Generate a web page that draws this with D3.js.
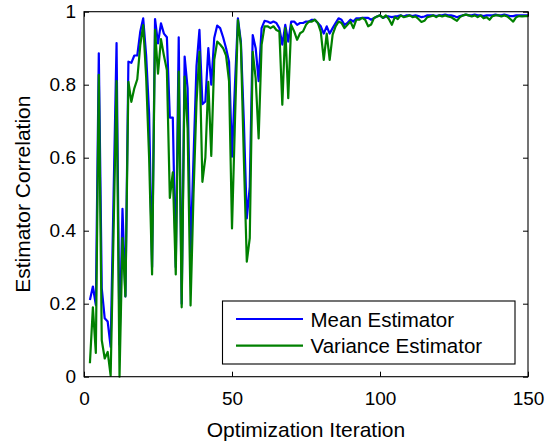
<!DOCTYPE html>
<html>
<head>
<meta charset="utf-8">
<script src="https://cdn.jsdelivr.net/npm/d3@7"></script>
<style>
  body { margin: 0; background: #fff; }
  text { font-family: "Liberation Sans", Arial, sans-serif; fill: #000; }
</style>
</head>
<body>
<div id="graf"></div>
<script>
// Datos (iteraciones 2..150)
iterations = d3.range(2, 151)

meanEstimator = [
  .21, .247, .196, .886, .242, .16, .151, .082, .5, .914,
  .088, .46, .22, .863, .86, .88, .88, .945, .982, .88,
  .72, .30, .98, .913, .968, .94, .93, .71, .71, .30,
  .93, .20, .877, .79, .34, .60, .85, .95, .747, .754,
  .90, .80, .928, .962, .955, .93, .90, .863, .603, .80,
  .982, .918, .70, .434, .52, .936, .90, .81, .955, .975,
  .973, .969, .973, .969, .955, .91, .964, .918, .973, .973,
  .964, .969, .969, .973, .973, .978, .978, .969, .96, .94,
  .96, .94, .955, .969, .982, .978, .964, .969, .978, .973,
  .982, .982, .983, .983, .983, .978, .983, .987, .99, .983,
  .987, .987, .985, .987, .988, .99, .987, .99, .99, .988,
  .99, .988, .985, .987, .99, .99, .99, .988, .99, .99,
  .992, .99, .99, .988, .985, .988, .99, .992, .99, .99,
  .992, .99, .99, .988, .99, .99, .99, .992, .99, .99,
  .992, .99, .988, .988, .99, .99, .99, .99, .99
]

varianceEstimator = [
  .037, .19, .065, .827, .10, .05, .068, .003, .4, .81,
  .0, .38, .22, .808, .753, .79, .815, .908, .963, .82,
  .6, .28, .95, .83, .925, .88, .84, .49, .56, .28,
  .836, .19, .822, .68, .195, .5, .75, .89, .534, .6,
  .808, .605, .868, .918, .91, .90, .88, .81, .406, .70,
  .977, .909, .60, .315, .38, .89, .817, .653, .909, .96,
  .96, .955, .96, .95, .946, .745, .955, .763, .964, .946,
  .923, .941, .946, .964, .973, .973, .978, .969, .945, .868,
  .94, .868, .937, .96, .973, .969, .955, .964, .973, .955,
  .978, .978, .983, .978, .96, .965, .983, .987, .99, .983,
  .99, .98, .964, .985, .98, .99, .985, .987, .99, .985,
  .987, .98, .972, .975, .985, .987, .99, .985, .99, .987,
  .99, .987, .985, .98, .975, .985, .99, .992, .99, .987,
  .99, .985, .99, .982, .985, .978, .988, .99, .99, .987,
  .99, .987, .98, .973, .985, .988, .987, .988, .988
]

seriesNames = ['Mean Estimator', 'Variance Estimator']
seriesColors = ['#0000ff', '#008000']

xTicks = [0, 50, 100, 150]
yTicks = [0, 0.2, 0.4, 0.6, 0.8, 1]
yTickLabels = ['0', '0.2', '0.4', '0.6', '0.8', '1']

// I. Configuración
ancho_total = 552
alto_total = 443
margins = { top: 11.7, left: 84, right: 24, bottom: 66.3 }
ancho = ancho_total - margins.left - margins.right
alto = alto_total - margins.top - margins.bottom

svg = d3.select('#graf').append('svg')
        .attr('width', ancho_total)
        .attr('height', alto_total)

g = svg.append('g')
       .attr('transform', `translate(${ margins.left }, ${ margins.top })`)

x = d3.scaleLinear().domain([0, 150]).range([0, ancho])
y = d3.scaleLinear().domain([0, 1]).range([alto, 0])

// ejes con marcas hacia dentro
xBottom = d3.axisBottom(x).tickValues(xTicks).tickSizeInner(-5).tickSizeOuter(0).tickPadding(15)
xTop = d3.axisTop(x).tickValues(xTicks).tickSizeInner(-5).tickSizeOuter(0).tickFormat('')
yLeft = d3.axisLeft(y).tickValues(yTicks).tickSizeInner(-5).tickSizeOuter(0).tickPadding(8)
          .tickFormat((d, i) => yTickLabels[i])
yRight = d3.axisRight(y).tickValues(yTicks).tickSizeInner(-5).tickSizeOuter(0).tickFormat('')

g.append('g').attr('transform', `translate(0, ${ alto })`).call(xBottom)
g.append('g').call(xTop)
g.append('g').call(yLeft)
g.append('g').attr('transform', `translate(${ ancho }, 0)`).call(yRight)

g.selectAll('.domain').remove()
g.selectAll('.tick line').attr('stroke', '#000')
g.selectAll('.tick text')
 .style('font-size', '19px')
 .style('font-family', '"Liberation Sans", Arial, sans-serif')

// líneas
line = d3.line()
         .x((d, i) => x(iterations[i]))
         .y(d => y(d))

;[meanEstimator, varianceEstimator].forEach((serie, k) => {
  g.append('path')
   .datum(serie)
   .attr('fill', 'none')
   .attr('stroke', seriesColors[k])
   .attr('stroke-width', 2.2)
   .attr('stroke-linejoin', 'round')
   .attr('d', line)
})

// marco
g.append('rect')
 .attr('width', ancho)
 .attr('height', alto)
 .attr('fill', 'none')
 .attr('stroke', '#000')
 .attr('stroke-width', 1.1)

// títulos de ejes
svg.append('text')
   .attr('x', margins.left + ancho / 2)
   .attr('y', 437)
   .attr('text-anchor', 'middle')
   .style('font-size', '21px')
   .text('Optimization Iteration')

svg.append('text')
   .attr('transform', `translate(30, ${ margins.top + alto / 2 }) rotate(-90)`)
   .attr('text-anchor', 'middle')
   .style('font-size', '21px')
   .text('Estimator Correlation')

// leyenda
leyenda = svg.append('g')
             .attr('transform', 'translate(222.5, 301)')

leyenda.append('rect')
       .attr('width', 292.5)
       .attr('height', 63)
       .attr('fill', '#fff')
       .attr('stroke', '#000')
       .attr('stroke-width', 1.1)

seriesNames.forEach((name, k) => {
  leyenda.append('line')
         .attr('x1', 13.5)
         .attr('x2', 80.5)
         .attr('y1', 18 + k * 26.7)
         .attr('y2', 18 + k * 26.7)
         .attr('stroke', seriesColors[k])
         .attr('stroke-width', 2.2)
  leyenda.append('text')
         .attr('x', 88)
         .attr('y', 25.5 + k * 26.7)
         .style('font-size', '20.5px')
         .text(name)
})
</script>
</body>
</html>
